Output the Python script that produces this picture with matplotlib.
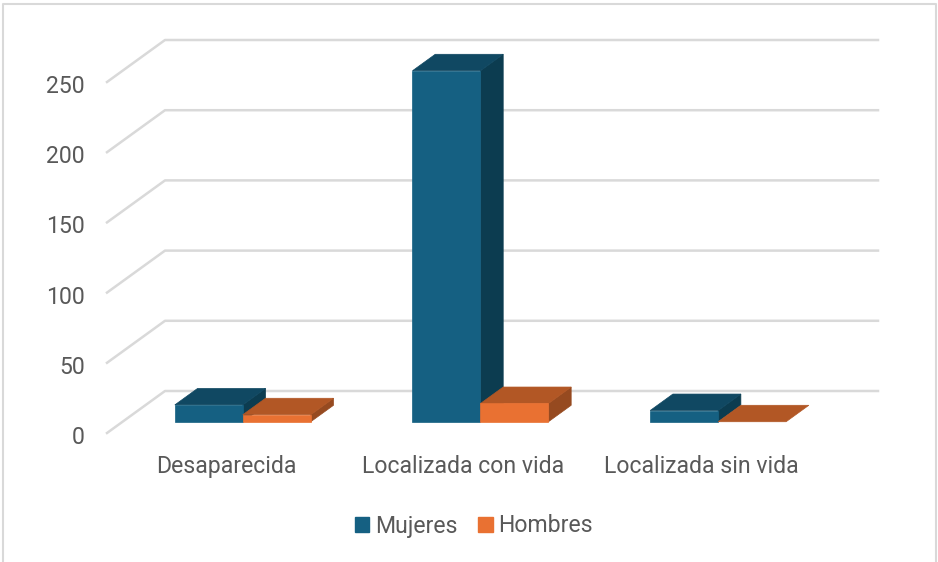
import matplotlib
matplotlib.use('Agg')
import matplotlib.pyplot as plt
from matplotlib.patches import Polygon, Patch
from matplotlib.transforms import ScaledTranslation

categories = ['Desaparecida', 'Localizada con vida', 'Localizada sin vida']
mujeres = [12, 250, 8]
hombres = [5, 13, 0]
y_ticks = [0, 50, 100, 150, 200, 250]

W, H = 938, 562
colors_m = {'front': '#156082', 'top': '#104862', 'side': '#0C3C50'}
colors_h = {'front': '#E97132', 'top': '#B25725', 'side': '#964A20'}
grid_color = '#D9D9D9'
text_color = '#595959'

plt.rcParams['font.family'] = ['Roboto', 'DejaVu Sans']

fig = plt.figure(figsize=(W / 100, H / 100), dpi=100)
# front plane of the fake 3D box, in pixels: x 107-820, y 433 (0) to 82 (250)
ax = fig.add_axes([107 / W, 1 - 433 / H, (820 - 107) / W, (433 - 82) / H])
ax.set_xlim(-0.5, 2.5)
ax.set_ylim(0, 250)
ax.patch.set_visible(False)
for s in ax.spines.values():
    s.set_visible(False)

# depth of the floor in data units
DX = 58 / (713 / 3)
DY = 42 / (351 / 250)
BAR_W = 0.286
BAR_SHIFT = 0.006
D0, D1 = 0.268, 0.66


def proj(x, v, d):
    return (x + d * DX, v + d * DY)


for t in y_ticks:
    ax.plot(*zip(proj(-0.5, t, 0), proj(-0.5, t, 1), proj(2.5, t, 1)),
            color=grid_color, lw=1.8, clip_on=False, zorder=1)


def box(x0, x1, v, c):
    faces = [('top', [proj(x0, v, D0), proj(x1, v, D0), proj(x1, v, D1), proj(x0, v, D1)])]
    if v > 0:  # an empty bar is only its flat top
        faces.insert(0, ('side', [proj(x1, 0, D0), proj(x1, 0, D1), proj(x1, v, D1), proj(x1, v, D0)]))
        faces.append(('front', [proj(x0, 0, D0), proj(x1, 0, D0), proj(x1, v, D0), proj(x0, v, D0)]))
    for name, pts in faces:
        ax.add_patch(Polygon(pts, closed=True, fc=c[name], ec=c[name], lw=0.5,
                             clip_on=False, zorder=2))


for i in range(len(categories)):
    mid = i + BAR_SHIFT
    box(mid - BAR_W, mid, mujeres[i], colors_m)
    box(mid, mid + BAR_W, hombres[i], colors_h)

ax.set_xticks(range(len(categories)))
ax.set_xticklabels(categories)
ax.set_yticks(y_ticks)
ax.tick_params(axis='both', length=0, labelsize=16.6, labelcolor=text_color)
ax.tick_params(axis='x', pad=16)
ax.tick_params(axis='y', pad=16)
for lab in ax.get_yticklabels():
    lab.set_transform(lab.get_transform() + ScaledTranslation(0, -2 / 100, fig.dpi_scale_trans))

handles = [Patch(color=colors_m['front'], label='Mujeres'),
           Patch(color=colors_h['front'], label='Hombres')]
fig.legend(handles=handles, loc='center', bbox_to_anchor=(474 / W, 1 - 526 / H),
           ncol=2, frameon=False, fontsize=16.6, labelcolor=text_color,
           handlelength=0.62, handleheight=0.62, handletextpad=0.25, columnspacing=0.9)

# chart frame, no bottom edge in the crop
fig.add_artist(plt.Line2D([2.5 / W, 2.5 / W, 935.5 / W, 935.5 / W],
                          [0, 1 - 3.5 / H, 1 - 3.5 / H, 0],
                          transform=fig.transFigure, color=grid_color, lw=1.5))

fig.savefig('out.png', dpi=100)
